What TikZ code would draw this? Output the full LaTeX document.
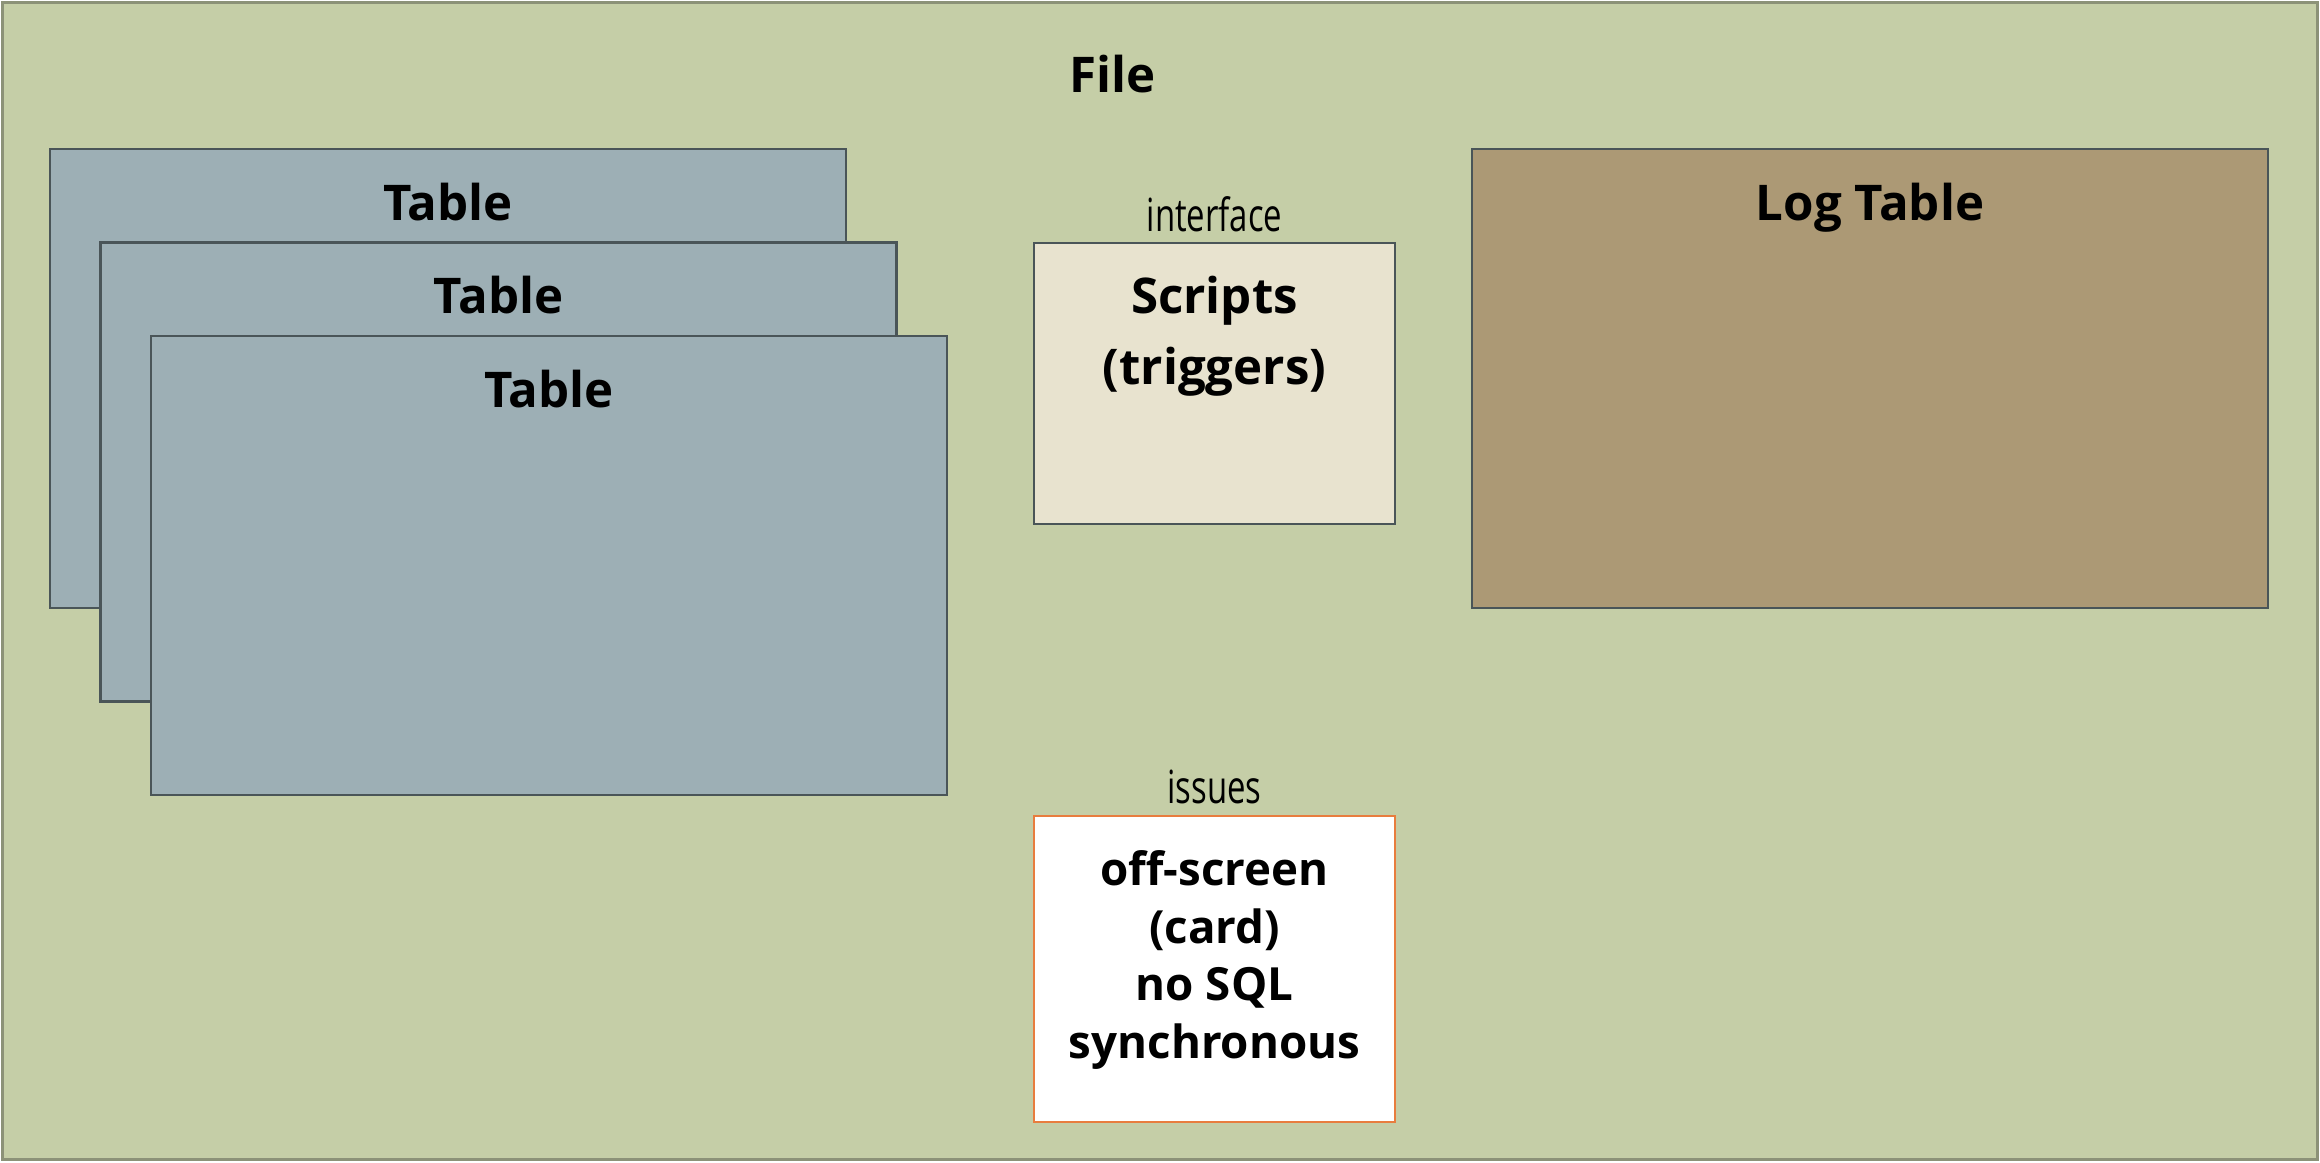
\documentclass[tikz,border=0pt]{standalone}
\usepackage{fontspec}
\setmainfont{Open Sans}
\newfontfamily\condfont[FakeStretch=0.72]{Open Sans}
\usetikzlibrary{positioning}
\definecolor{bggreen}{RGB}{197,206,167}
\definecolor{frameline}{RGB}{140,146,120}
\definecolor{tablegray}{RGB}{157,175,181}
\definecolor{logbrown}{RGB}{172,153,117}
\definecolor{scriptcream}{RGB}{232,227,207}
\definecolor{boxline}{RGB}{74,85,88}
\definecolor{issueorange}{RGB}{232,125,62}
\tikzstyle{tablebox}=[rectangle,draw=boxline,fill=tablegray,inner sep=0mm,outer sep=0mm,minimum width=7.96cm,minimum height=4.59cm]
\tikzstyle{logbox}=[rectangle,draw=boxline,fill=logbrown,inner sep=0mm,outer sep=0mm,minimum width=7.96cm,minimum height=4.59cm]
\tikzstyle{scriptbox}=[rectangle,draw=boxline,fill=scriptcream,inner sep=0mm,outer sep=0mm,minimum width=3.61cm,minimum height=2.81cm]
\tikzstyle{issuebox}=[rectangle,draw=issueorange,fill=white,inner sep=0mm,outer sep=0mm,minimum width=3.61cm,minimum height=3.06cm]
\tikzstyle{boxtitle}=[inner sep=0mm,font=\bfseries\fontsize{14}{20.2}\selectfont,align=center]
\tikzstyle{issuetext}=[inner sep=0mm,font=\bfseries\fontsize{13}{16.4}\selectfont,align=center]
\tikzstyle{note}=[inner sep=0mm,anchor=base,font=\condfont\fontsize{13}{16}\selectfont]
\tikzset{every picture/.style={
    line width=0.7pt
  }
}
\begin{document}
\begin{tikzpicture}
    \useasboundingbox (0,0) rectangle (23.2,-11.62);
    \node[rectangle,draw=frameline,fill=bggreen,inner sep=0mm,minimum width=23.15cm,minimum height=11.57cm] at (11.6,-5.81) (file) {};
    \node[boxtitle,anchor=base] at (11.13,-0.92) (filetitle) {File};
    \node[tablebox] at (4.48,-3.785) (tab1) {};
    \node[boxtitle,anchor=base] at (4.48,-2.20) (tab1title) {Table};
    \node[tablebox] at (4.985,-4.72) (tab2) {};
    \node[boxtitle,anchor=base] at (4.985,-3.135) (tab2title) {Table};
    \node[tablebox] at (5.49,-5.655) (tab3) {};
    \node[boxtitle,anchor=base] at (5.49,-4.07) (tab3title) {Table};
    \node[scriptbox] at (12.145,-3.835) (scripts) {};
    \node[note] at (12.145,-2.31) (interface) {interface};
    \node[boxtitle] at (12.145,-3.36) (scriptstitle) {Scripts\\(triggers)};
    \node[logbox] at (18.70,-3.785) (log) {};
    \node[boxtitle,anchor=base] at (18.70,-2.20) (logtitle) {Log Table};
    \node[issuebox] at (12.145,-9.69) (issuesbox) {};
    \node[note] at (12.145,-8.03) (issues) {issues};
    \node[issuetext] at (12.145,-9.60) (issuestext) {off-screen\\(card)\\no SQL\\synchronous};
  \end{tikzpicture}
\end{document}
